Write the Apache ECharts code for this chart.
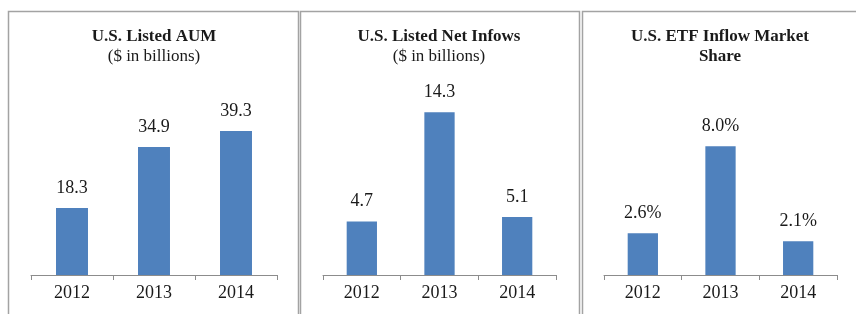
<!DOCTYPE html>
<html>
<head>
<meta charset="utf-8">
<script src="https://cdn.jsdelivr.net/npm/echarts@6/dist/echarts.min.js"></script>
<style>
  html, body { margin: 0; padding: 0; background: #fff; }
  #main { width: 856px; height: 314px; }
</style>
</head>
<body>
<div id="main"></div>
<script>
// 数据
const years = ['2012', '2013', '2014'];
const aum = [18.3, 34.9, 39.3];
const netInflows = [4.7, 14.3, 5.1];
const marketShare = [2.6, 8.0, 2.1];

const chart = echarts.init(document.getElementById('main'));

const serif = '"Liberation Serif", "Times New Roman", serif';
const barColor = '#4f81bd';
const textColor = '#1a1a1a';

// 每个面板的网格位置
const grids = [
    { left: 31, width: 246, top: 110, bottom: 39 },
    { left: 323, width: 233, top: 93, bottom: 39 },
    { left: 604, width: 233, top: 114, bottom: 39 }
];
const yMax = [45, 16, 10];

function xAxis(i) {
    return {
        type: 'category',
        gridIndex: i,
        data: years,
        axisLine: { show: true, lineStyle: { color: '#8c8c8c', width: 1 } },
        axisTick: { show: true, inside: false, alignWithLabel: false, length: 5, lineStyle: { color: '#8c8c8c', width: 1 } },
        axisLabel: { color: textColor, fontFamily: serif, fontSize: 18, margin: 9 }
    };
}

function yAxis(i) {
    return {
        type: 'value',
        gridIndex: i,
        min: 0,
        max: yMax[i],
        show: false,
        splitLine: { show: false }
    };
}

function bars(i, data, fmt) {
    return {
        type: 'bar',
        xAxisIndex: i,
        yAxisIndex: i,
        data: data,
        barWidth: '39%',
        itemStyle: { color: barColor },
        label: {
            show: true,
            position: 'top',
            distance: 11,
            color: textColor,
            fontFamily: serif,
            fontSize: 18,
            formatter: fmt
        }
    };
}

function title(x, text, sub) {
    return {
        text: text,
        subtext: sub,
        left: x,
        top: 27,
        padding: 0,
        itemGap: 0,
        textAlign: 'center',
        textStyle: { color: textColor, fontFamily: serif, fontSize: 17, fontWeight: 'bold', lineHeight: 20 },
        subtextStyle: { color: textColor, fontFamily: serif, fontSize: 17, lineHeight: 20 }
    };
}

function frame(x, w) {
    return {
        type: 'rect',
        shape: { x: x, y: 11.5, width: w, height: 320 },
        style: { fill: 'none', stroke: '#a3a3a3', lineWidth: 1.5 }
    };
}

const option = {
    backgroundColor: '#fff',
    animation: false,
    title: [
        title(154, 'U.S. Listed AUM', '($ in billions)'),
        title(439, 'U.S. Listed Net Infows', '($ in billions)'),
        title(720, 'U.S. ETF Inflow Market\nShare', '')
    ],
    grid: grids,
    xAxis: [xAxis(0), xAxis(1), xAxis(2)],
    yAxis: [yAxis(0), yAxis(1), yAxis(2)],
    series: [
        bars(0, aum, p => p.value.toFixed(1)),
        bars(1, netInflows, p => p.value.toFixed(1)),
        bars(2, marketShare, p => p.value.toFixed(1) + '%')
    ],
    graphic: [
        frame(8.5, 290),
        frame(300.5, 279),
        frame(582.5, 300)
    ]
};

chart.setOption(option);
window.addEventListener('resize', () => chart.resize());
</script>
</body>
</html>
